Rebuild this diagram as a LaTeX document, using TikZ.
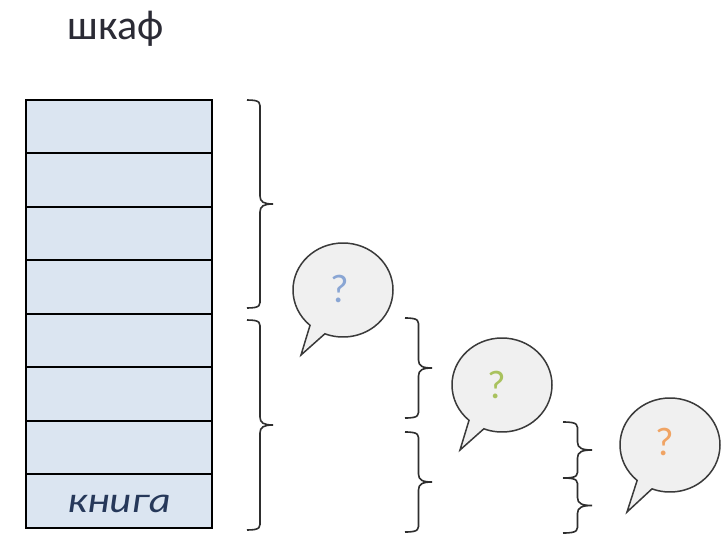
\documentclass[tikz,border=0pt]{standalone}
\usepackage{fontspec}
\setmainfont{Carlito}
\usetikzlibrary{shapes.callouts}
\definecolor{shelffill}{HTML}{DBE5F1}
\definecolor{titlecol}{HTML}{2B2B35}
\definecolor{bookcol}{HTML}{26385A}
\definecolor{bubfill}{HTML}{F0F0F0}
\definecolor{bubline}{HTML}{3A3A3A}
\definecolor{bracecol}{HTML}{2E2E2E}
\definecolor{qblue}{HTML}{8AA6D4}
\definecolor{qgreen}{HTML}{A9C25E}
\definecolor{qorange}{HTML}{F0A464}
\tikzset{
  shelf/.style={draw=black, line width=2pt, fill=shelffill, minimum width=186pt, inner sep=0pt},
  bracestyle/.style={draw=bracecol, line width=1.6pt},
  bubble/.style={ellipse callout, draw=bubline, line width=1.5pt, fill=bubfill, minimum width=100pt, minimum height=94pt, inner sep=0pt, callout pointer arc=20},
  qmark/.style={font=\fontsize{40}{44}\selectfont, inner sep=0pt},
  pics/curly/.style 2 args={code={
    \draw[bracestyle] (0,0) .. controls (0.55*#2,0) and (0.5*#2,3) .. (0.5*#2,10)
      -- (0.5*#2,0.5*#1-8) .. controls (0.5*#2,0.5*#1-2) and (0.65*#2,0.5*#1) .. (#2,0.5*#1)
      .. controls (0.65*#2,0.5*#1) and (0.5*#2,0.5*#1+2) .. (0.5*#2,0.5*#1+8)
      -- (0.5*#2,#1-10) .. controls (0.5*#2,#1-3) and (0.55*#2,#1) .. (0,#1);
  }}
}
\begin{document}
\begin{tikzpicture}[x=1pt,y=-1pt]
\useasboundingbox[fill=white] (0,0) rectangle (725,536);
% title
\node[font=\fontsize{42}{46}\selectfont, text=titlecol, anchor=base, inner sep=0pt] (title) at (115.5,39) {шкаф};
% shelves (boundaries 100,153,207,260,314,367,421,474,528)
\node[shelf, minimum height=53pt] (s1) at (119,126.5) {};
\node[shelf, minimum height=54pt] (s2) at (119,180) {};
\node[shelf, minimum height=53pt] (s3) at (119,233.5) {};
\node[shelf, minimum height=54pt] (s4) at (119,287) {};
\node[shelf, minimum height=53pt] (s5) at (119,340.5) {};
\node[shelf, minimum height=54pt] (s6) at (119,394) {};
\node[shelf, minimum height=53pt] (s7) at (119,447.5) {};
\node[shelf, minimum height=54pt] (s8) at (119,501) {};
\node[font=\fontsize{36}{40}\selectfont\itshape, text=bookcol, anchor=base, inner sep=0pt] (book) at (119,512) {\scalebox{1.18}[1]{книга}};
% braces
\pic at (247,100) {curly={208}{26}};
\pic at (247,320) {curly={210}{26}};
\pic at (405,318) {curly={100}{27}};
\pic at (405,432) {curly={100}{27}};
\pic at (563,422) {curly={56}{29}};
\pic at (563,478) {curly={55}{29}};
% bubbles
\coordinate (p1) at (301,355);
\coordinate (p2) at (460,450);
\coordinate (p3) at (627,512);
\node[bubble, callout absolute pointer={(p1)}] (b1) at (343,290) {};
\node[bubble, callout absolute pointer={(p2)}] (b2) at (502,385) {};
\node[bubble, callout absolute pointer={(p3)}] (b3) at (670,445) {};
\node[qmark, text=qblue] (q1) at (340,289) {?};
\node[qmark, text=qgreen] (q2) at (497,385) {?};
\node[qmark, text=qorange] (q3) at (665,442) {?};
\end{tikzpicture}
\end{document}
